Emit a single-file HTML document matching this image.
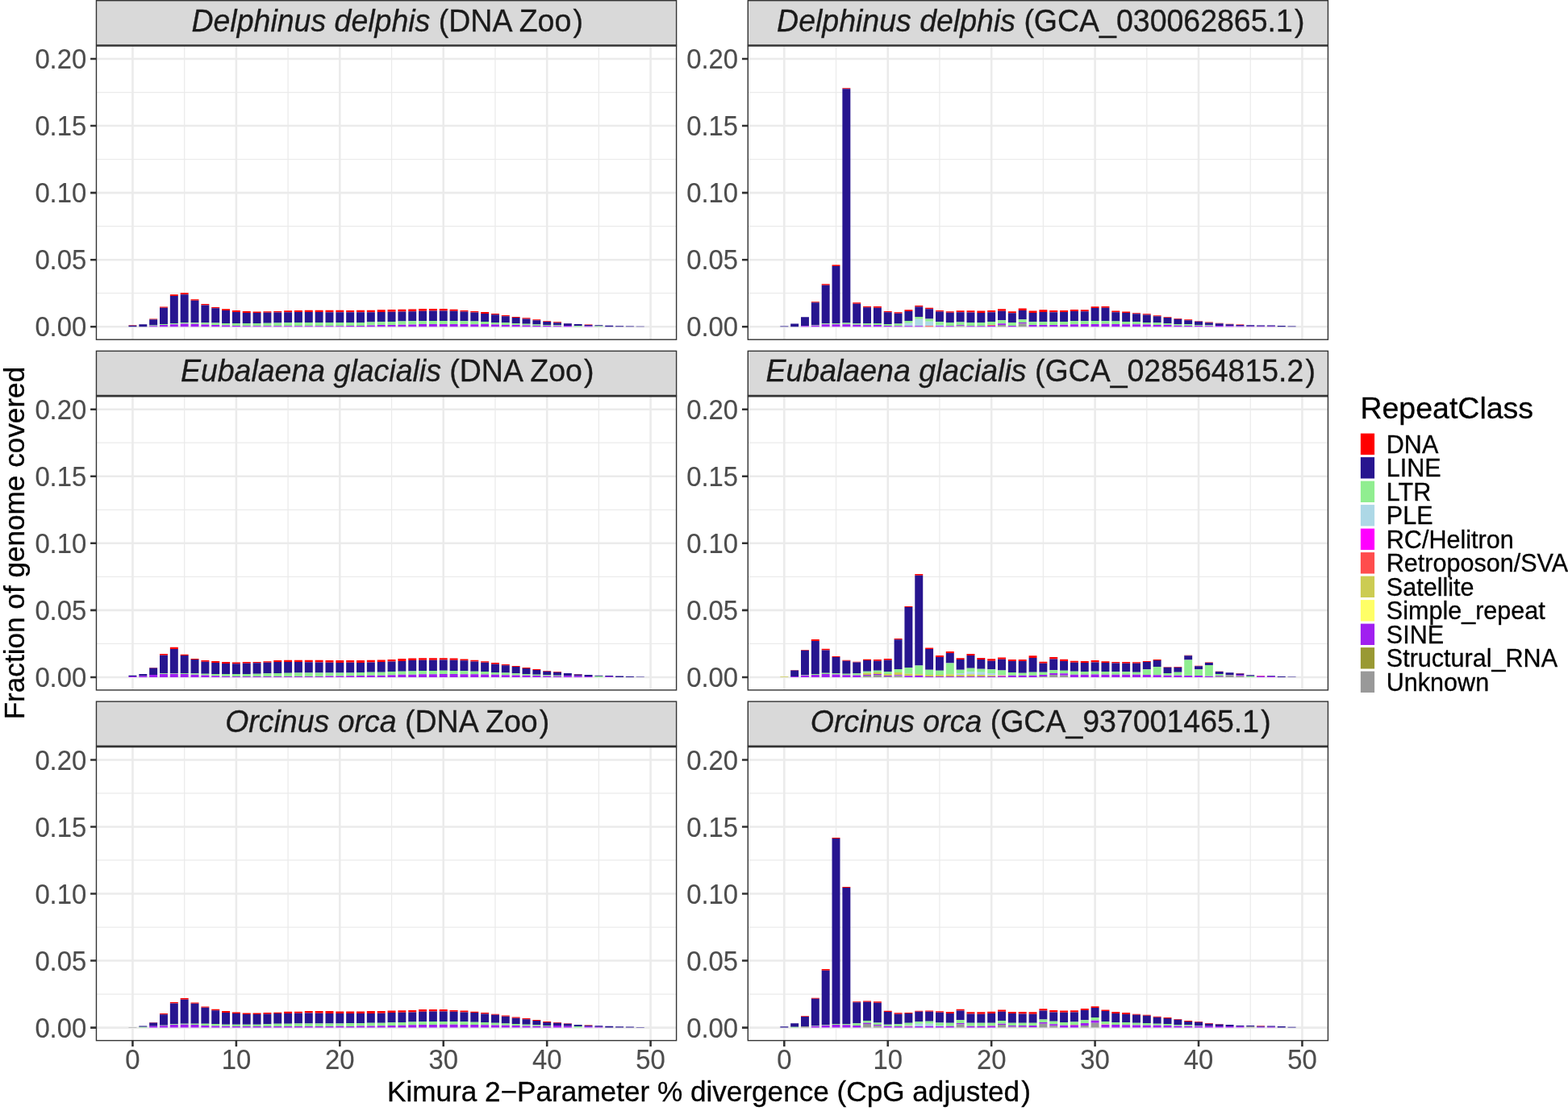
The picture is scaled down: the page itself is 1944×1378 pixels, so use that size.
<!DOCTYPE html>
<html lang="en"><head><meta charset="utf-8"><title>Repeat landscape</title>
<style>html,body{margin:0;padding:0;background:#fff}body{width:1944px;height:1378px;overflow:hidden}svg{display:block}text{font-family:"Liberation Sans",sans-serif}</style>
</head><body>
<svg width="1944" height="1378" viewBox="0 0 1944 1378">
<rect x="0" y="0" width="1944" height="1378" fill="#FFFFFF"/>
<g>
<rect x="119.45" y="57.2" width="719.15" height="364" fill="#FFFFFF"/>
<path d="M119.45 363.67H838.6M119.45 280.62H838.6M119.45 197.57H838.6M119.45 114.52H838.6M228.66 57.2V421.2M357.1 57.2V421.2M485.52 57.2V421.2M613.95 57.2V421.2M742.38 57.2V421.2" stroke="#EBEBEB" stroke-width="1.28" fill="none"/>
<path d="M119.45 405.2H838.6M119.45 322.15H838.6M119.45 239.1H838.6M119.45 156.05H838.6M119.45 73H838.6M164.45 57.2V421.2M292.88 57.2V421.2M421.31 57.2V421.2M549.74 57.2V421.2M678.17 57.2V421.2M806.6 57.2V421.2" stroke="#EBEBEB" stroke-width="2.55" fill="none"/>
<path d="M159.47 403.37h9.95v0.42h-9.95zM185.16 395.62h9.95v0.67h-9.95zM198 380.62h9.95v1.08h-9.95zM210.85 365.2h9.95v1.92h-9.95zM223.69 363.37h9.95v1.83h-9.95zM236.53 371.2h9.95v1.67h-9.95zM249.38 377.12h9.95v1.42h-9.95zM262.22 381.03h9.95v1.25h-9.95zM275.06 383.28h9.95v1.75h-9.95zM287.9 385.03h9.95v2.08h-9.95zM300.75 386.03h9.95v2.08h-9.95zM313.59 386.45h9.95v1.67h-9.95zM326.43 386.2h9.95v1.67h-9.95zM339.28 386.03h9.95v1.42h-9.95zM352.12 385.2h9.95v2.08h-9.95zM364.96 385.03h9.95v2.08h-9.95zM377.81 384.78h9.95v2.33h-9.95zM390.65 384.78h9.95v2.33h-9.95zM403.49 384.78h9.95v2.5h-9.95zM416.33 384.78h9.95v2.5h-9.95zM429.18 385.03h9.95v2.25h-9.95zM442.02 384.78h9.95v2.5h-9.95zM454.86 384.78h9.95v2.5h-9.95zM467.71 384.37h9.95v2.75h-9.95zM480.55 384.12h9.95v2.75h-9.95zM493.39 383.78h9.95v2.67h-9.95zM506.24 383.53h9.95v2.67h-9.95zM519.08 383.12h9.95v2.75h-9.95zM531.92 383.12h9.95v2.33h-9.95zM544.76 383.12h9.95v2.33h-9.95zM557.61 383.78h9.95v2.08h-9.95zM570.45 384.95h9.95v1.67h-9.95zM583.29 386.03h9.95v1.42h-9.95zM596.14 387.12h9.95v1.83h-9.95zM608.98 389.12h9.95v1.25h-9.95zM621.82 391.03h9.95v1.25h-9.95zM634.67 393.12h9.95v1h-9.95zM647.51 394.37h9.95v1.08h-9.95zM660.35 396.28h9.95v1h-9.95zM673.2 398.28h9.95v0.67h-9.95zM686.04 399.37h9.95v0.83h-9.95zM698.88 401.03h9.95v0.33h-9.95zM724.57 402.53h9.95v0.5h-9.95z" fill="#FF0000"/>
<path d="M159.47 403.78h9.95v1.42h-9.95zM172.32 402.28h9.95v2.92h-9.95zM185.16 396.28h9.95v7.25h-9.95zM198 381.7h9.95v20.33h-9.95zM210.85 367.12h9.95v33.92h-9.95zM223.69 365.2h9.95v34.83h-9.95zM236.53 372.87h9.95v27.33h-9.95zM249.38 378.53h9.95v21.67h-9.95zM262.22 382.28h9.95v18.33h-9.95zM275.06 385.03h9.95v16h-9.95zM287.9 387.12h9.95v13.92h-9.95zM300.75 388.12h9.95v12.92h-9.95zM313.59 388.12h9.95v12.92h-9.95zM326.43 387.87h9.95v13h-9.95zM339.28 387.45h9.95v13h-9.95zM352.12 387.28h9.95v12.92h-9.95zM364.96 387.12h9.95v12.92h-9.95zM377.81 387.12h9.95v12.92h-9.95zM390.65 387.12h9.95v12.92h-9.95zM403.49 387.28h9.95v12.75h-9.95zM416.33 387.28h9.95v12.75h-9.95zM429.18 387.28h9.95v12.75h-9.95zM442.02 387.28h9.95v12.75h-9.95zM454.86 387.28h9.95v12.25h-9.95zM467.71 387.12h9.95v12.25h-9.95zM480.55 386.87h9.95v12.25h-9.95zM493.39 386.45h9.95v12.08h-9.95zM506.24 386.2h9.95v12.17h-9.95zM519.08 385.87h9.95v12.42h-9.95zM531.92 385.45h9.95v12.5h-9.95zM544.76 385.45h9.95v12.5h-9.95zM557.61 385.87h9.95v12.25h-9.95zM570.45 386.62h9.95v11.75h-9.95zM583.29 387.45h9.95v11.08h-9.95zM596.14 388.95h9.95v10.17h-9.95zM608.98 390.37h9.95v9.67h-9.95zM621.82 392.28h9.95v7.92h-9.95zM634.67 394.12h9.95v7.08h-9.95zM647.51 395.45h9.95v6.25h-9.95zM660.35 397.28h9.95v5.17h-9.95zM673.2 398.95h9.95v4h-9.95zM686.04 400.2h9.95v3.08h-9.95zM698.88 401.37h9.95v2.67h-9.95zM711.72 402.03h9.95v2.17h-9.95zM724.57 403.03h9.95v1.42h-9.95zM737.41 403.28h9.95v1.33h-9.95zM750.25 403.87h9.95v1.33h-9.95zM763.1 404.2h9.95v1h-9.95zM775.94 404.45h9.95v0.75h-9.95zM788.78 404.7h9.95v0.5h-9.95z" fill="#27158F"/>
<path d="M185.16 403.53h9.95v0.67h-9.95zM198 402.03h9.95v1.08h-9.95zM210.85 401.03h9.95v1.25h-9.95zM223.69 400.03h9.95v1.42h-9.95zM236.53 400.2h9.95v1.67h-9.95zM249.38 400.2h9.95v2.33h-9.95zM262.22 400.62h9.95v2.5h-9.95zM275.06 401.03h9.95v2.5h-9.95zM287.9 401.03h9.95v2.92h-9.95zM300.75 401.03h9.95v3.17h-9.95zM313.59 401.03h9.95v3.17h-9.95zM326.43 400.87h9.95v3.5h-9.95zM339.28 400.45h9.95v3.92h-9.95zM352.12 400.2h9.95v4.17h-9.95zM364.96 400.03h9.95v4.33h-9.95zM377.81 400.03h9.95v4.33h-9.95zM390.65 400.03h9.95v4.33h-9.95zM403.49 400.03h9.95v4.17h-9.95zM416.33 400.03h9.95v4.17h-9.95zM429.18 400.03h9.95v3.92h-9.95zM442.02 400.03h9.95v3.92h-9.95zM454.86 399.53h9.95v4h-9.95zM467.71 399.37h9.95v3.75h-9.95zM480.55 399.12h9.95v3.83h-9.95zM493.39 398.53h9.95v4.17h-9.95zM506.24 398.37h9.95v4.08h-9.95zM519.08 398.28h9.95v3.83h-9.95zM531.92 397.95h9.95v4.08h-9.95zM544.76 397.95h9.95v4.08h-9.95zM557.61 398.12h9.95v3.92h-9.95zM570.45 398.37h9.95v3.67h-9.95zM583.29 398.53h9.95v3.75h-9.95zM596.14 399.12h9.95v2.92h-9.95zM608.98 400.03h9.95v2.5h-9.95zM621.82 400.2h9.95v2.75h-9.95zM634.67 401.2h9.95v1.92h-9.95zM647.51 401.7h9.95v1.83h-9.95zM660.35 402.45h9.95v1.5h-9.95zM673.2 402.95h9.95v1.17h-9.95zM686.04 403.28h9.95v0.92h-9.95zM711.72 404.2h9.95v1h-9.95zM737.41 404.62h9.95v0.58h-9.95z" fill="#90EE90"/>
<path d="M185.16 404.2h9.95v1h-9.95zM198 403.12h9.95v2.08h-9.95zM210.85 402.28h9.95v2.92h-9.95zM223.69 401.45h9.95v3.75h-9.95zM236.53 401.87h9.95v3.33h-9.95zM249.38 402.53h9.95v2.67h-9.95zM262.22 403.12h9.95v2.08h-9.95zM275.06 403.53h9.95v1.67h-9.95zM287.9 403.95h9.95v1.25h-9.95zM300.75 404.2h9.95v1h-9.95zM313.59 404.2h9.95v1h-9.95zM326.43 404.37h9.95v0.83h-9.95zM339.28 404.37h9.95v0.83h-9.95zM352.12 404.37h9.95v0.83h-9.95zM364.96 404.37h9.95v0.83h-9.95zM377.81 404.37h9.95v0.83h-9.95zM390.65 404.37h9.95v0.83h-9.95zM403.49 404.2h9.95v1h-9.95zM416.33 404.2h9.95v1h-9.95zM429.18 403.95h9.95v1.25h-9.95zM442.02 403.95h9.95v1.25h-9.95zM454.86 403.53h9.95v1.67h-9.95zM467.71 403.12h9.95v2.08h-9.95zM480.55 402.95h9.95v2.25h-9.95zM493.39 402.7h9.95v2.5h-9.95zM506.24 402.45h9.95v2.75h-9.95zM519.08 402.12h9.95v3.08h-9.95zM531.92 402.03h9.95v3.17h-9.95zM544.76 402.03h9.95v3.17h-9.95zM557.61 402.03h9.95v3.17h-9.95zM570.45 402.03h9.95v3.17h-9.95zM583.29 402.28h9.95v2.92h-9.95zM596.14 402.03h9.95v3.17h-9.95zM608.98 402.53h9.95v2.67h-9.95zM621.82 402.95h9.95v2.25h-9.95zM634.67 403.12h9.95v2.08h-9.95zM647.51 403.53h9.95v1.67h-9.95zM660.35 403.95h9.95v1.25h-9.95zM673.2 404.12h9.95v1.08h-9.95zM686.04 404.2h9.95v1h-9.95zM698.88 404.03h9.95v1.17h-9.95zM724.57 404.45h9.95v0.75h-9.95z" fill="#A020F0"/>
<rect x="119.45" y="0.7" width="719.15" height="55.8" fill="#D9D9D9"/>
<rect x="119.45" y="0.7" width="719.15" height="420.5" fill="none" stroke="#333333" stroke-width="1.4"/>
<path d="M118.95 56.5H839.1" stroke="#333333" stroke-width="2.7" fill="none"/>
<text transform="translate(480.23 38.7) scale(1 1.01)" font-size="37.5" fill="#1A1A1A" stroke="#1A1A1A" stroke-width="0.3" text-anchor="middle" xml:space="preserve"><tspan font-style="italic">Delphinus delphis</tspan> (DNA Zoo<tspan dx="2.2">)</tspan></text>
<text transform="translate(107.2 417.45) scale(1 1.05)" font-size="32.8" fill="#4D4D4D" stroke="#4D4D4D" stroke-width="0.15" text-anchor="end">0.00</text>
<text transform="translate(107.2 334.4) scale(1 1.05)" font-size="32.8" fill="#4D4D4D" stroke="#4D4D4D" stroke-width="0.15" text-anchor="end">0.05</text>
<text transform="translate(107.2 251.35) scale(1 1.05)" font-size="32.8" fill="#4D4D4D" stroke="#4D4D4D" stroke-width="0.15" text-anchor="end">0.10</text>
<text transform="translate(107.2 168.3) scale(1 1.05)" font-size="32.8" fill="#4D4D4D" stroke="#4D4D4D" stroke-width="0.15" text-anchor="end">0.15</text>
<text transform="translate(107.2 85.25) scale(1 1.05)" font-size="32.8" fill="#4D4D4D" stroke="#4D4D4D" stroke-width="0.15" text-anchor="end">0.20</text>
<path d="M112.1 405.2H119.45M112.1 322.15H119.45M112.1 239.1H119.45M112.1 156.05H119.45M112.1 73H119.45" stroke="#333333" stroke-width="2.55" fill="none"/>
</g>
<g>
<rect x="927.3" y="57.2" width="719.15" height="364" fill="#FFFFFF"/>
<path d="M927.3 363.67H1646.45M927.3 280.62H1646.45M927.3 197.57H1646.45M927.3 114.52H1646.45M1036.51 57.2V421.2M1164.94 57.2V421.2M1293.38 57.2V421.2M1421.8 57.2V421.2M1550.23 57.2V421.2" stroke="#EBEBEB" stroke-width="1.28" fill="none"/>
<path d="M927.3 405.2H1646.45M927.3 322.15H1646.45M927.3 239.1H1646.45M927.3 156.05H1646.45M927.3 73H1646.45M972.3 57.2V421.2M1100.73 57.2V421.2M1229.16 57.2V421.2M1357.59 57.2V421.2M1486.02 57.2V421.2M1614.45 57.2V421.2" stroke="#EBEBEB" stroke-width="2.55" fill="none"/>
<path d="M1005.85 374.28h9.95v0.92h-9.95zM1018.7 352.28h9.95v1.58h-9.95zM1031.54 328.45h9.95v1.67h-9.95zM1044.38 109.2h9.95v1h-9.95zM1057.23 375.37h9.95v1.5h-9.95zM1070.07 380.12h9.95v1.08h-9.95zM1082.91 380.12h9.95v1.75h-9.95zM1095.76 385.95h9.95v1.33h-9.95zM1108.6 387.2h9.95v1.67h-9.95zM1121.44 384.37h9.95v1.67h-9.95zM1134.28 379.12h9.95v1.33h-9.95zM1147.13 381.87h9.95v1.42h-9.95zM1159.97 384.95h9.95v1.5h-9.95zM1172.81 386.2h9.95v1.67h-9.95zM1185.66 385.2h9.95v2.08h-9.95zM1198.5 385.2h9.95v2.25h-9.95zM1211.34 385.45h9.95v2.67h-9.95zM1224.18 385.03h9.95v2.25h-9.95zM1237.03 383.28h9.95v2.58h-9.95zM1249.87 386.28h9.95v2h-9.95zM1262.71 382.45h9.95v2.58h-9.95zM1275.56 385.62h9.95v2.5h-9.95zM1288.4 384.2h9.95v2.92h-9.95zM1301.24 385.03h9.95v2.25h-9.95zM1314.09 385.03h9.95v2.08h-9.95zM1326.93 383.95h9.95v2.08h-9.95zM1339.77 384.37h9.95v1.92h-9.95zM1352.62 380.2h9.95v1.92h-9.95zM1365.46 380.03h9.95v1.67h-9.95zM1378.3 385.62h9.95v1.67h-9.95zM1391.14 386.45h9.95v1.67h-9.95zM1403.99 388.28h9.95v1.08h-9.95zM1416.83 389.37h9.95v1.08h-9.95zM1429.67 391.2h9.95v1.08h-9.95zM1442.52 393.28h9.95v0.83h-9.95zM1455.36 394.95h9.95v0.92h-9.95zM1468.2 396.28h9.95v1h-9.95zM1481.05 398.28h9.95v0.58h-9.95zM1493.89 399.53h9.95v0.67h-9.95zM1506.73 400.78h9.95v0.5h-9.95zM1519.57 401.7h9.95v0.5h-9.95zM1532.42 402.53h9.95v0.42h-9.95z" fill="#FF0000"/>
<path d="M967.32 404.53h9.95v0.67h-9.95zM980.17 401.62h9.95v3.58h-9.95zM993.01 393.28h9.95v11.08h-9.95zM1005.85 375.2h9.95v28.08h-9.95zM1018.7 353.87h9.95v47.5h-9.95zM1031.54 330.12h9.95v70.92h-9.95zM1044.38 110.2h9.95v290.33h-9.95zM1057.23 376.87h9.95v24.33h-9.95zM1070.07 381.2h9.95v20.17h-9.95zM1082.91 381.87h9.95v19.17h-9.95zM1095.76 387.28h9.95v14.75h-9.95zM1108.6 388.87h9.95v12.75h-9.95zM1121.44 386.03h9.95v12.08h-9.95zM1134.28 380.45h9.95v12.67h-9.95zM1147.13 383.28h9.95v12.33h-9.95zM1159.97 386.45h9.95v12.75h-9.95zM1172.81 387.87h9.95v12.17h-9.95zM1185.66 387.28h9.95v12.25h-9.95zM1198.5 387.45h9.95v12.5h-9.95zM1211.34 388.12h9.95v11.83h-9.95zM1224.18 387.28h9.95v11.83h-9.95zM1237.03 385.87h9.95v11.42h-9.95zM1249.87 388.28h9.95v11.67h-9.95zM1262.71 385.03h9.95v11.25h-9.95zM1275.56 388.12h9.95v11.25h-9.95zM1288.4 387.12h9.95v12.08h-9.95zM1301.24 387.28h9.95v11.83h-9.95zM1314.09 387.12h9.95v11.83h-9.95zM1326.93 386.03h9.95v12.25h-9.95zM1339.77 386.28h9.95v12h-9.95zM1352.62 382.12h9.95v16h-9.95zM1365.46 381.7h9.95v16.58h-9.95zM1378.3 387.28h9.95v11.25h-9.95zM1391.14 388.12h9.95v10.83h-9.95zM1403.99 389.37h9.95v9.83h-9.95zM1416.83 390.45h9.95v9.58h-9.95zM1429.67 392.28h9.95v8.08h-9.95zM1442.52 394.12h9.95v7.08h-9.95zM1455.36 395.87h9.95v6.17h-9.95zM1468.2 397.28h9.95v5h-9.95zM1481.05 398.87h9.95v4.08h-9.95zM1493.89 400.2h9.95v3h-9.95zM1506.73 401.28h9.95v2.75h-9.95zM1519.57 402.2h9.95v2.08h-9.95zM1532.42 402.95h9.95v1.5h-9.95zM1545.26 403.28h9.95v1.5h-9.95zM1558.1 403.45h9.95v1.33h-9.95zM1570.95 403.45h9.95v1.33h-9.95zM1583.79 404.03h9.95v1.17h-9.95zM1596.63 404.53h9.95v0.67h-9.95z" fill="#27158F"/>
<path d="M1005.85 403.28h9.95v0.58h-9.95zM1018.7 401.37h9.95v0.92h-9.95zM1031.54 401.03h9.95v1.25h-9.95zM1044.38 400.53h9.95v1.75h-9.95zM1057.23 401.2h9.95v1.67h-9.95zM1070.07 401.37h9.95v1.92h-9.95zM1082.91 401.03h9.95v2.08h-9.95zM1095.76 402.03h9.95v2.08h-9.95zM1108.6 401.62h9.95v2.67h-9.95zM1121.44 398.12h9.95v2.67h-9.95zM1134.28 393.12h9.95v2.75h-9.95zM1147.13 395.62h9.95v3.17h-9.95zM1159.97 399.2h9.95v3.75h-9.95zM1172.81 400.03h9.95v4.17h-9.95zM1185.66 399.53h9.95v3.75h-9.95zM1198.5 399.95h9.95v4.25h-9.95zM1211.34 399.95h9.95v4.25h-9.95zM1224.18 399.12h9.95v4.17h-9.95zM1237.03 397.28h9.95v4h-9.95zM1249.87 399.95h9.95v4h-9.95zM1262.71 396.28h9.95v3.75h-9.95zM1275.56 399.37h9.95v3.75h-9.95zM1288.4 399.2h9.95v3.75h-9.95zM1301.24 399.12h9.95v3.83h-9.95zM1314.09 398.95h9.95v3.75h-9.95zM1326.93 398.28h9.95v4h-9.95zM1339.77 398.28h9.95v3.83h-9.95zM1352.62 398.12h9.95v4h-9.95zM1365.46 398.28h9.95v3.58h-9.95zM1378.3 398.53h9.95v3.58h-9.95zM1391.14 398.95h9.95v3.33h-9.95zM1403.99 399.2h9.95v3.08h-9.95zM1416.83 400.03h9.95v2.5h-9.95zM1429.67 400.37h9.95v2.58h-9.95zM1442.52 401.2h9.95v1.92h-9.95zM1455.36 402.03h9.95v1.75h-9.95zM1468.2 402.28h9.95v1.67h-9.95zM1481.05 402.95h9.95v1.08h-9.95zM1493.89 403.2h9.95v1h-9.95z" fill="#90EE90"/>
<path d="M1121.44 400.78h9.95v3.42h-9.95zM1134.28 395.87h9.95v8.33h-9.95zM1147.13 398.78h9.95v5.5h-9.95zM1159.97 402.95h9.95v1.25h-9.95z" fill="#ADD8E6"/>
<path d="M1147.13 404.28h9.95v0.92h-9.95zM1224.18 403.28h9.95v0.67h-9.95z" fill="#FF4D4D"/>
<path d="M993.01 404.37h9.95v0.83h-9.95zM1005.85 403.87h9.95v1.33h-9.95zM1018.7 402.28h9.95v2.92h-9.95zM1031.54 402.28h9.95v2.92h-9.95zM1044.38 402.28h9.95v2.92h-9.95zM1057.23 402.87h9.95v2.33h-9.95zM1070.07 403.28h9.95v1.92h-9.95zM1082.91 403.12h9.95v2.08h-9.95zM1095.76 404.12h9.95v1.08h-9.95zM1108.6 404.28h9.95v0.92h-9.95zM1121.44 404.2h9.95v1h-9.95zM1134.28 404.2h9.95v1h-9.95zM1159.97 404.2h9.95v1h-9.95zM1172.81 404.2h9.95v1h-9.95zM1185.66 403.28h9.95v0.92h-9.95zM1198.5 404.2h9.95v1h-9.95zM1211.34 404.2h9.95v1h-9.95zM1224.18 403.95h9.95v1.25h-9.95zM1237.03 401.28h9.95v1.83h-9.95zM1249.87 403.95h9.95v1.25h-9.95zM1262.71 400.03h9.95v1.25h-9.95zM1275.56 403.12h9.95v2.08h-9.95zM1288.4 402.95h9.95v2.25h-9.95zM1301.24 402.95h9.95v2.25h-9.95zM1314.09 402.7h9.95v2.5h-9.95zM1326.93 402.28h9.95v2.92h-9.95zM1339.77 402.12h9.95v3.08h-9.95zM1352.62 402.12h9.95v3.08h-9.95zM1365.46 401.87h9.95v3.33h-9.95zM1378.3 402.12h9.95v3.08h-9.95zM1391.14 402.28h9.95v2.92h-9.95zM1403.99 402.28h9.95v2.92h-9.95zM1416.83 402.53h9.95v2.67h-9.95zM1429.67 402.95h9.95v2.25h-9.95zM1442.52 403.12h9.95v2.08h-9.95zM1455.36 403.78h9.95v1.42h-9.95zM1468.2 403.95h9.95v1.25h-9.95zM1481.05 404.03h9.95v1.17h-9.95zM1493.89 404.2h9.95v1h-9.95zM1506.73 404.03h9.95v1.17h-9.95zM1519.57 404.28h9.95v0.92h-9.95zM1532.42 404.45h9.95v0.75h-9.95zM1545.26 404.78h9.95v0.42h-9.95zM1558.1 404.78h9.95v0.42h-9.95zM1570.95 404.78h9.95v0.42h-9.95z" fill="#A020F0"/>
<path d="M1185.66 404.2h9.95v1h-9.95zM1237.03 403.12h9.95v2.08h-9.95zM1262.71 401.28h9.95v3.92h-9.95z" fill="#999999"/>
<rect x="927.3" y="0.7" width="719.15" height="55.8" fill="#D9D9D9"/>
<rect x="927.3" y="0.7" width="719.15" height="420.5" fill="none" stroke="#333333" stroke-width="1.4"/>
<path d="M926.8 56.5H1646.95" stroke="#333333" stroke-width="2.7" fill="none"/>
<text transform="translate(1290.28 38.7) scale(1 1.01)" font-size="37.5" fill="#1A1A1A" stroke="#1A1A1A" stroke-width="0.3" text-anchor="middle" xml:space="preserve"><tspan font-style="italic">Delphinus delphis</tspan> (GCA_030062865.1<tspan dx="2.2">)</tspan></text>
<text transform="translate(915.05 417.45) scale(1 1.05)" font-size="32.8" fill="#4D4D4D" stroke="#4D4D4D" stroke-width="0.15" text-anchor="end">0.00</text>
<text transform="translate(915.05 334.4) scale(1 1.05)" font-size="32.8" fill="#4D4D4D" stroke="#4D4D4D" stroke-width="0.15" text-anchor="end">0.05</text>
<text transform="translate(915.05 251.35) scale(1 1.05)" font-size="32.8" fill="#4D4D4D" stroke="#4D4D4D" stroke-width="0.15" text-anchor="end">0.10</text>
<text transform="translate(915.05 168.3) scale(1 1.05)" font-size="32.8" fill="#4D4D4D" stroke="#4D4D4D" stroke-width="0.15" text-anchor="end">0.15</text>
<text transform="translate(915.05 85.25) scale(1 1.05)" font-size="32.8" fill="#4D4D4D" stroke="#4D4D4D" stroke-width="0.15" text-anchor="end">0.20</text>
<path d="M919.95 405.2H927.3M919.95 322.15H927.3M919.95 239.1H927.3M919.95 156.05H927.3M919.95 73H927.3" stroke="#333333" stroke-width="2.55" fill="none"/>
</g>
<g>
<rect x="119.45" y="491.9" width="719.15" height="364" fill="#FFFFFF"/>
<path d="M119.45 798.38H838.6M119.45 715.32H838.6M119.45 632.27H838.6M119.45 549.22H838.6M228.66 491.9V855.9M357.1 491.9V855.9M485.52 491.9V855.9M613.95 491.9V855.9M742.38 491.9V855.9" stroke="#EBEBEB" stroke-width="1.28" fill="none"/>
<path d="M119.45 839.9H838.6M119.45 756.85H838.6M119.45 673.8H838.6M119.45 590.75H838.6M119.45 507.7H838.6M164.45 491.9V855.9M292.88 491.9V855.9M421.31 491.9V855.9M549.74 491.9V855.9M678.17 491.9V855.9M806.6 491.9V855.9" stroke="#EBEBEB" stroke-width="2.55" fill="none"/>
<path d="M185.16 828.07h9.95v0.42h-9.95zM198 810.9h9.95v1.75h-9.95zM210.85 802.82h9.95v2.08h-9.95zM223.69 811.82h9.95v1.17h-9.95zM236.53 816.98h9.95v1h-9.95zM249.38 819.07h9.95v1.67h-9.95zM262.22 820.07h9.95v1.92h-9.95zM275.06 820.9h9.95v2.17h-9.95zM287.9 821.57h9.95v1.67h-9.95zM300.75 820.98h9.95v1.83h-9.95zM313.59 820.9h9.95v1.25h-9.95zM326.43 820.32h9.95v1.5h-9.95zM339.28 819.07h9.95v1.83h-9.95zM352.12 818.82h9.95v2.17h-9.95zM364.96 818.82h9.95v2.17h-9.95zM377.81 818.82h9.95v2.33h-9.95zM390.65 818.82h9.95v2.75h-9.95zM403.49 818.9h9.95v2.92h-9.95zM416.33 819.07h9.95v2.92h-9.95zM429.18 818.9h9.95v2.92h-9.95zM442.02 819.07h9.95v2.92h-9.95zM454.86 818.82h9.95v2.75h-9.95zM467.71 818.57h9.95v2.5h-9.95zM480.55 817.98h9.95v2.58h-9.95zM493.39 816.98h9.95v2.92h-9.95zM506.24 816.57h9.95v2.5h-9.95zM519.08 816.15h9.95v2.67h-9.95zM531.92 816.15h9.95v2.67h-9.95zM544.76 816.15h9.95v2.33h-9.95zM557.61 816.57h9.95v2.25h-9.95zM570.45 817.57h9.95v1.75h-9.95zM583.29 818.82h9.95v1.67h-9.95zM596.14 820.15h9.95v1.67h-9.95zM608.98 821.98h9.95v1.67h-9.95zM621.82 823.9h9.95v1.42h-9.95zM634.67 825.9h9.95v1.08h-9.95zM647.51 827.98h9.95v0.92h-9.95zM660.35 830.07h9.95v0.83h-9.95zM673.2 831.98h9.95v0.83h-9.95zM686.04 833.07h9.95v0.75h-9.95zM711.72 835.98h9.95v0.5h-9.95z" fill="#FF0000"/>
<path d="M159.47 837.65h9.95v1.42h-9.95zM172.32 835.98h9.95v2.5h-9.95zM185.16 828.48h9.95v8.5h-9.95zM198 812.65h9.95v22.67h-9.95zM210.85 804.9h9.95v30h-9.95zM223.69 812.98h9.95v21.92h-9.95zM236.53 817.98h9.95v17.33h-9.95zM249.38 820.73h9.95v15h-9.95zM262.22 821.98h9.95v13.92h-9.95zM275.06 823.07h9.95v12.83h-9.95zM287.9 823.23h9.95v12.67h-9.95zM300.75 822.82h9.95v13.08h-9.95zM313.59 822.15h9.95v13.58h-9.95zM326.43 821.82h9.95v13.5h-9.95zM339.28 820.9h9.95v14h-9.95zM352.12 820.98h9.95v13.75h-9.95zM364.96 820.98h9.95v13.5h-9.95zM377.81 821.15h9.95v13.33h-9.95zM390.65 821.57h9.95v12.92h-9.95zM403.49 821.82h9.95v12.67h-9.95zM416.33 821.98h9.95v12.5h-9.95zM429.18 821.82h9.95v12.67h-9.95zM442.02 821.98h9.95v12.08h-9.95zM454.86 821.57h9.95v12.25h-9.95zM467.71 821.07h9.95v12.75h-9.95zM480.55 820.57h9.95v12.42h-9.95zM493.39 819.9h9.95v12.92h-9.95zM506.24 819.07h9.95v13.33h-9.95zM519.08 818.82h9.95v13.17h-9.95zM531.92 818.82h9.95v13.17h-9.95zM544.76 818.48h9.95v13.33h-9.95zM557.61 818.82h9.95v13.17h-9.95zM570.45 819.32h9.95v12.83h-9.95zM583.29 820.48h9.95v12.33h-9.95zM596.14 821.82h9.95v11.25h-9.95zM608.98 823.65h9.95v10.25h-9.95zM621.82 825.32h9.95v9.17h-9.95zM634.67 826.98h9.95v8.17h-9.95zM647.51 828.9h9.95v7.08h-9.95zM660.35 830.9h9.95v5.83h-9.95zM673.2 832.82h9.95v4.33h-9.95zM686.04 833.82h9.95v3.83h-9.95zM698.88 834.9h9.95v3.33h-9.95zM711.72 836.48h9.95v2h-9.95zM724.57 836.98h9.95v2.08h-9.95zM737.41 837.65h9.95v1.17h-9.95zM750.25 837.98h9.95v1.33h-9.95zM763.1 838.4h9.95v1.5h-9.95zM775.94 838.98h9.95v0.92h-9.95zM788.78 839.4h9.95v0.5h-9.95z" fill="#27158F"/>
<path d="M198 835.32h9.95v0.58h-9.95zM210.85 834.9h9.95v0.83h-9.95zM223.69 834.9h9.95v1h-9.95zM236.53 835.32h9.95v1.42h-9.95zM249.38 835.73h9.95v1.83h-9.95zM262.22 835.9h9.95v2.33h-9.95zM275.06 835.9h9.95v2.75h-9.95zM287.9 835.9h9.95v3h-9.95zM300.75 835.9h9.95v3h-9.95zM313.59 835.73h9.95v3.17h-9.95zM326.43 835.32h9.95v3.58h-9.95zM339.28 834.9h9.95v4h-9.95zM352.12 834.73h9.95v4.17h-9.95zM364.96 834.48h9.95v4.42h-9.95zM377.81 834.48h9.95v4.42h-9.95zM390.65 834.48h9.95v4.42h-9.95zM403.49 834.48h9.95v4h-9.95zM416.33 834.48h9.95v4h-9.95zM429.18 834.48h9.95v3.75h-9.95zM442.02 834.07h9.95v3.92h-9.95zM454.86 833.82h9.95v4h-9.95zM467.71 833.82h9.95v3.83h-9.95zM480.55 832.98h9.95v4.17h-9.95zM493.39 832.82h9.95v4h-9.95zM506.24 832.4h9.95v4.42h-9.95zM519.08 831.98h9.95v4.33h-9.95zM531.92 831.98h9.95v4.17h-9.95zM544.76 831.82h9.95v4.17h-9.95zM557.61 831.98h9.95v4h-9.95zM570.45 832.15h9.95v4h-9.95zM583.29 832.82h9.95v3.33h-9.95zM596.14 833.07h9.95v3.33h-9.95zM608.98 833.9h9.95v2.92h-9.95zM621.82 834.48h9.95v2.67h-9.95zM634.67 835.15h9.95v2.25h-9.95zM647.51 835.98h9.95v1.83h-9.95zM660.35 836.73h9.95v1.33h-9.95zM673.2 837.15h9.95v1.33h-9.95zM686.04 837.65h9.95v1.17h-9.95zM737.41 838.82h9.95v1.08h-9.95z" fill="#90EE90"/>
<path d="M159.47 839.07h9.95v0.83h-9.95zM172.32 838.48h9.95v1.42h-9.95zM185.16 836.98h9.95v2.92h-9.95zM198 835.9h9.95v4h-9.95zM210.85 835.73h9.95v4.17h-9.95zM223.69 835.9h9.95v4h-9.95zM236.53 836.73h9.95v3.17h-9.95zM249.38 837.57h9.95v2.33h-9.95zM262.22 838.23h9.95v1.67h-9.95zM275.06 838.65h9.95v1.25h-9.95zM287.9 838.9h9.95v1h-9.95zM300.75 838.9h9.95v1h-9.95zM313.59 838.9h9.95v1h-9.95zM326.43 838.9h9.95v1h-9.95zM339.28 838.9h9.95v1h-9.95zM352.12 838.9h9.95v1h-9.95zM364.96 838.9h9.95v1h-9.95zM377.81 838.9h9.95v1h-9.95zM390.65 838.9h9.95v1h-9.95zM403.49 838.48h9.95v1.42h-9.95zM416.33 838.48h9.95v1.42h-9.95zM429.18 838.23h9.95v1.67h-9.95zM442.02 837.98h9.95v1.92h-9.95zM454.86 837.82h9.95v2.08h-9.95zM467.71 837.65h9.95v2.25h-9.95zM480.55 837.15h9.95v2.75h-9.95zM493.39 836.82h9.95v3.08h-9.95zM506.24 836.82h9.95v3.08h-9.95zM519.08 836.32h9.95v3.58h-9.95zM531.92 836.15h9.95v3.75h-9.95zM544.76 835.98h9.95v3.92h-9.95zM557.61 835.98h9.95v3.92h-9.95zM570.45 836.15h9.95v3.75h-9.95zM583.29 836.15h9.95v3.75h-9.95zM596.14 836.4h9.95v3.5h-9.95zM608.98 836.82h9.95v3.08h-9.95zM621.82 837.15h9.95v2.75h-9.95zM634.67 837.4h9.95v2.5h-9.95zM647.51 837.82h9.95v2.08h-9.95zM660.35 838.07h9.95v1.83h-9.95zM673.2 838.48h9.95v1.42h-9.95zM686.04 838.82h9.95v1.08h-9.95zM698.88 838.23h9.95v1.67h-9.95zM711.72 838.48h9.95v1.42h-9.95zM724.57 839.07h9.95v0.83h-9.95zM750.25 839.32h9.95v0.58h-9.95z" fill="#A020F0"/>
<rect x="119.45" y="435.4" width="719.15" height="55.8" fill="#D9D9D9"/>
<rect x="119.45" y="435.4" width="719.15" height="420.5" fill="none" stroke="#333333" stroke-width="1.4"/>
<path d="M118.95 491.2H839.1" stroke="#333333" stroke-width="2.7" fill="none"/>
<text transform="translate(480.23 473.4) scale(1 1.01)" font-size="37.5" fill="#1A1A1A" stroke="#1A1A1A" stroke-width="0.3" text-anchor="middle" xml:space="preserve"><tspan font-style="italic">Eubalaena glacialis</tspan> (DNA Zoo<tspan dx="2.2">)</tspan></text>
<text transform="translate(107.2 852.15) scale(1 1.05)" font-size="32.8" fill="#4D4D4D" stroke="#4D4D4D" stroke-width="0.15" text-anchor="end">0.00</text>
<text transform="translate(107.2 769.1) scale(1 1.05)" font-size="32.8" fill="#4D4D4D" stroke="#4D4D4D" stroke-width="0.15" text-anchor="end">0.05</text>
<text transform="translate(107.2 686.05) scale(1 1.05)" font-size="32.8" fill="#4D4D4D" stroke="#4D4D4D" stroke-width="0.15" text-anchor="end">0.10</text>
<text transform="translate(107.2 603) scale(1 1.05)" font-size="32.8" fill="#4D4D4D" stroke="#4D4D4D" stroke-width="0.15" text-anchor="end">0.15</text>
<text transform="translate(107.2 519.95) scale(1 1.05)" font-size="32.8" fill="#4D4D4D" stroke="#4D4D4D" stroke-width="0.15" text-anchor="end">0.20</text>
<path d="M112.1 839.9H119.45M112.1 756.85H119.45M112.1 673.8H119.45M112.1 590.75H119.45M112.1 507.7H119.45" stroke="#333333" stroke-width="2.55" fill="none"/>
</g>
<g>
<rect x="927.3" y="491.9" width="719.15" height="364" fill="#FFFFFF"/>
<path d="M927.3 798.38H1646.45M927.3 715.32H1646.45M927.3 632.27H1646.45M927.3 549.22H1646.45M1036.51 491.9V855.9M1164.94 491.9V855.9M1293.38 491.9V855.9M1421.8 491.9V855.9M1550.23 491.9V855.9" stroke="#EBEBEB" stroke-width="1.28" fill="none"/>
<path d="M927.3 839.9H1646.45M927.3 756.85H1646.45M927.3 673.8H1646.45M927.3 590.75H1646.45M927.3 507.7H1646.45M972.3 491.9V855.9M1100.73 491.9V855.9M1229.16 491.9V855.9M1357.59 491.9V855.9M1486.02 491.9V855.9M1614.45 491.9V855.9" stroke="#EBEBEB" stroke-width="2.55" fill="none"/>
<path d="M980.17 830.9h9.95v0.58h-9.95zM993.01 805.9h9.95v0.83h-9.95zM1005.85 792.98h9.95v1.92h-9.95zM1018.7 804.82h9.95v1.75h-9.95zM1031.54 814.07h9.95v1h-9.95zM1044.38 818.82h9.95v0.83h-9.95zM1057.23 820.65h9.95v0.92h-9.95zM1070.07 817.82h9.95v1.25h-9.95zM1082.91 817.98h9.95v1.67h-9.95zM1095.76 816.9h9.95v1.92h-9.95zM1108.6 791.98h9.95v1.17h-9.95zM1121.44 751.98h9.95v1h-9.95zM1134.28 711.98h9.95v1.67h-9.95zM1147.13 803.4h9.95v1.5h-9.95zM1159.97 812.98h9.95v1.92h-9.95zM1172.81 807.98h9.95v1.92h-9.95zM1185.66 816.15h9.95v1.92h-9.95zM1198.5 810.98h9.95v2.08h-9.95zM1211.34 815.9h9.95v2.08h-9.95zM1224.18 817.15h9.95v2.58h-9.95zM1237.03 815.57h9.95v2.25h-9.95zM1249.87 817.98h9.95v1.92h-9.95zM1262.71 817.98h9.95v1.92h-9.95zM1275.56 813.23h9.95v2.67h-9.95zM1288.4 820.73h9.95v2.08h-9.95zM1301.24 815.07h9.95v2.5h-9.95zM1314.09 817.82h9.95v2.08h-9.95zM1326.93 819.65h9.95v2.17h-9.95zM1339.77 819.9h9.95v2.08h-9.95zM1352.62 819.07h9.95v2.5h-9.95zM1365.46 820.15h9.95v1.83h-9.95zM1378.3 820.9h9.95v1.67h-9.95zM1391.14 820.9h9.95v1.75h-9.95zM1403.99 821.15h9.95v1.67h-9.95zM1416.83 819.9h9.95v1.08h-9.95zM1429.67 817.98h9.95v0.92h-9.95zM1442.52 827.15h9.95v0.67h-9.95zM1455.36 826.98h9.95v0.83h-9.95zM1468.2 812.82h9.95v0.5h-9.95zM1481.05 825.82h9.95v0.42h-9.95zM1493.89 821.57h9.95v0.5h-9.95zM1506.73 832.65h9.95v0.42h-9.95zM1532.42 835.07h9.95v0.5h-9.95zM1558.1 837.98h9.95v0.5h-9.95z" fill="#FF0000"/>
<path d="M980.17 831.48h9.95v7.5h-9.95zM993.01 806.73h9.95v30.42h-9.95zM1005.85 794.9h9.95v41h-9.95zM1018.7 806.57h9.95v28.25h-9.95zM1031.54 815.07h9.95v20h-9.95zM1044.38 819.65h9.95v16.08h-9.95zM1057.23 821.57h9.95v13.67h-9.95zM1070.07 819.07h9.95v13.67h-9.95zM1082.91 819.65h9.95v12.08h-9.95zM1095.76 818.82h9.95v14.17h-9.95zM1108.6 793.15h9.95v36.92h-9.95zM1121.44 752.98h9.95v75h-9.95zM1134.28 713.65h9.95v111.83h-9.95zM1147.13 804.9h9.95v25.83h-9.95zM1159.97 814.9h9.95v16.92h-9.95zM1172.81 809.9h9.95v12.67h-9.95zM1185.66 818.07h9.95v12.67h-9.95zM1198.5 813.07h9.95v15.75h-9.95zM1211.34 817.98h9.95v11.67h-9.95zM1224.18 819.73h9.95v10.42h-9.95zM1237.03 817.82h9.95v13.75h-9.95zM1249.87 819.9h9.95v14.17h-9.95zM1262.71 819.9h9.95v14.75h-9.95zM1275.56 815.9h9.95v17.92h-9.95zM1288.4 822.82h9.95v10.83h-9.95zM1301.24 817.57h9.95v13.58h-9.95zM1314.09 819.9h9.95v11.92h-9.95zM1326.93 821.82h9.95v11h-9.95zM1339.77 821.98h9.95v11h-9.95zM1352.62 821.57h9.95v11.25h-9.95zM1365.46 821.98h9.95v11h-9.95zM1378.3 822.57h9.95v10.67h-9.95zM1391.14 822.65h9.95v10.58h-9.95zM1403.99 822.82h9.95v10.83h-9.95zM1416.83 820.98h9.95v9.17h-9.95zM1429.67 818.9h9.95v8.08h-9.95zM1442.52 827.82h9.95v7.08h-9.95zM1455.36 827.82h9.95v6h-9.95zM1468.2 813.32h9.95v5.17h-9.95zM1481.05 826.23h9.95v4.08h-9.95zM1493.89 822.07h9.95v3h-9.95zM1506.73 833.07h9.95v2.83h-9.95zM1519.57 834.23h9.95v2.92h-9.95zM1532.42 835.57h9.95v1.42h-9.95zM1545.26 837.15h9.95v1.67h-9.95zM1570.95 838.32h9.95v0.75h-9.95zM1583.79 838.98h9.95v0.92h-9.95zM1596.63 839.4h9.95v0.5h-9.95z" fill="#27158F"/>
<path d="M993.01 837.15h9.95v0.67h-9.95zM1005.85 835.9h9.95v1h-9.95zM1018.7 834.82h9.95v1.08h-9.95zM1031.54 835.07h9.95v1.5h-9.95zM1044.38 835.73h9.95v1.42h-9.95zM1057.23 835.23h9.95v2.33h-9.95zM1070.07 832.73h9.95v1.92h-9.95zM1082.91 831.73h9.95v2.33h-9.95zM1095.76 832.98h9.95v2.92h-9.95zM1108.6 830.07h9.95v4h-9.95zM1121.44 827.98h9.95v7.75h-9.95zM1134.28 825.48h9.95v10.67h-9.95zM1147.13 830.73h9.95v6.25h-9.95zM1159.97 831.82h9.95v5.17h-9.95zM1172.81 822.57h9.95v14h-9.95zM1185.66 830.73h9.95v4.17h-9.95zM1198.5 828.82h9.95v4.42h-9.95zM1211.34 829.65h9.95v4.17h-9.95zM1224.18 830.15h9.95v4.75h-9.95zM1237.03 831.57h9.95v5.58h-9.95zM1249.87 834.07h9.95v3.75h-9.95zM1262.71 834.65h9.95v3.17h-9.95zM1275.56 833.82h9.95v3.83h-9.95zM1288.4 833.65h9.95v3.33h-9.95zM1301.24 831.15h9.95v3.75h-9.95zM1314.09 831.82h9.95v3.5h-9.95zM1326.93 832.82h9.95v4h-9.95zM1339.77 832.98h9.95v3.83h-9.95zM1352.62 832.82h9.95v3.58h-9.95zM1365.46 832.98h9.95v3.83h-9.95zM1378.3 833.23h9.95v3.58h-9.95zM1391.14 833.23h9.95v3.5h-9.95zM1403.99 833.65h9.95v3.17h-9.95zM1416.83 830.15h9.95v6.83h-9.95zM1429.67 826.98h9.95v10.25h-9.95zM1442.52 834.9h9.95v2.92h-9.95zM1455.36 833.82h9.95v4h-9.95zM1468.2 818.48h9.95v19.58h-9.95zM1481.05 830.32h9.95v7.75h-9.95zM1493.89 825.07h9.95v13.58h-9.95zM1506.73 835.9h9.95v2.33h-9.95zM1545.26 838.82h9.95v1.08h-9.95z" fill="#90EE90"/>
<path d="M1185.66 834.9h9.95v2.08h-9.95zM1198.5 833.23h9.95v3.33h-9.95zM1211.34 833.82h9.95v3.17h-9.95zM1224.18 834.9h9.95v2.5h-9.95zM1237.03 837.15h9.95v0.67h-9.95z" fill="#ADD8E6"/>
<path d="M1237.03 837.82h9.95v0.83h-9.95z" fill="#FF4D4D"/>
<path d="M967.32 839.23h9.95v0.67h-9.95zM1070.07 834.65h9.95v2.33h-9.95zM1082.91 834.07h9.95v1.83h-9.95zM1095.76 835.9h9.95v2.08h-9.95zM1108.6 834.07h9.95v3.08h-9.95zM1121.44 835.73h9.95v2.5h-9.95zM1134.28 836.15h9.95v1.92h-9.95zM1147.13 836.98h9.95v1.92h-9.95zM1159.97 836.98h9.95v1.92h-9.95zM1172.81 836.57h9.95v2.33h-9.95zM1185.66 836.98h9.95v1.92h-9.95zM1198.5 836.57h9.95v2.33h-9.95zM1211.34 836.98h9.95v1.92h-9.95zM1224.18 837.4h9.95v1.5h-9.95z" fill="#CCCC52"/>
<path d="M980.17 838.98h9.95v0.92h-9.95zM993.01 837.82h9.95v2.08h-9.95zM1005.85 836.9h9.95v3h-9.95zM1018.7 835.9h9.95v4h-9.95zM1031.54 836.57h9.95v3.33h-9.95zM1044.38 837.15h9.95v2.75h-9.95zM1057.23 837.57h9.95v2.33h-9.95zM1070.07 836.98h9.95v1h-9.95zM1082.91 835.9h9.95v1.08h-9.95zM1095.76 837.98h9.95v0.92h-9.95zM1108.6 837.15h9.95v1.08h-9.95zM1121.44 838.23h9.95v1.67h-9.95zM1134.28 838.07h9.95v1.83h-9.95zM1147.13 838.9h9.95v1h-9.95zM1159.97 838.9h9.95v1h-9.95zM1172.81 838.9h9.95v1h-9.95zM1185.66 838.9h9.95v1h-9.95zM1198.5 838.9h9.95v1h-9.95zM1211.34 838.9h9.95v1h-9.95zM1224.18 838.9h9.95v1h-9.95zM1237.03 838.65h9.95v1.25h-9.95zM1249.87 837.82h9.95v2.08h-9.95zM1262.71 837.82h9.95v2.08h-9.95zM1275.56 837.65h9.95v2.25h-9.95zM1288.4 836.98h9.95v1.92h-9.95zM1301.24 834.9h9.95v2.08h-9.95zM1314.09 835.32h9.95v2.5h-9.95zM1326.93 836.82h9.95v3.08h-9.95zM1339.77 836.82h9.95v3.08h-9.95zM1352.62 836.4h9.95v3.5h-9.95zM1365.46 836.82h9.95v3.08h-9.95zM1378.3 836.82h9.95v3.08h-9.95zM1391.14 836.73h9.95v3.17h-9.95zM1403.99 836.82h9.95v3.08h-9.95zM1416.83 836.98h9.95v2.92h-9.95zM1429.67 837.23h9.95v2.67h-9.95zM1442.52 837.82h9.95v2.08h-9.95zM1455.36 837.82h9.95v2.08h-9.95zM1468.2 838.07h9.95v1.83h-9.95zM1481.05 838.07h9.95v1.83h-9.95zM1493.89 838.65h9.95v1.25h-9.95zM1506.73 838.23h9.95v0.83h-9.95zM1532.42 836.98h9.95v1.25h-9.95zM1558.1 838.48h9.95v1.42h-9.95zM1570.95 839.07h9.95v0.83h-9.95z" fill="#A020F0"/>
<path d="M1070.07 837.98h9.95v1.92h-9.95zM1082.91 836.98h9.95v2.92h-9.95zM1095.76 838.9h9.95v1h-9.95zM1108.6 838.23h9.95v1.67h-9.95zM1288.4 838.9h9.95v1h-9.95zM1301.24 836.98h9.95v2.92h-9.95zM1314.09 837.82h9.95v2.08h-9.95zM1506.73 839.07h9.95v0.83h-9.95zM1519.57 837.15h9.95v2.75h-9.95zM1532.42 838.23h9.95v1.67h-9.95z" fill="#999999"/>
<rect x="927.3" y="435.4" width="719.15" height="55.8" fill="#D9D9D9"/>
<rect x="927.3" y="435.4" width="719.15" height="420.5" fill="none" stroke="#333333" stroke-width="1.4"/>
<path d="M926.8 491.2H1646.95" stroke="#333333" stroke-width="2.7" fill="none"/>
<text transform="translate(1290.28 473.4) scale(1 1.01)" font-size="37.5" fill="#1A1A1A" stroke="#1A1A1A" stroke-width="0.3" text-anchor="middle" xml:space="preserve"><tspan font-style="italic">Eubalaena glacialis</tspan> (GCA_028564815.2<tspan dx="2.2">)</tspan></text>
<text transform="translate(915.05 852.15) scale(1 1.05)" font-size="32.8" fill="#4D4D4D" stroke="#4D4D4D" stroke-width="0.15" text-anchor="end">0.00</text>
<text transform="translate(915.05 769.1) scale(1 1.05)" font-size="32.8" fill="#4D4D4D" stroke="#4D4D4D" stroke-width="0.15" text-anchor="end">0.05</text>
<text transform="translate(915.05 686.05) scale(1 1.05)" font-size="32.8" fill="#4D4D4D" stroke="#4D4D4D" stroke-width="0.15" text-anchor="end">0.10</text>
<text transform="translate(915.05 603) scale(1 1.05)" font-size="32.8" fill="#4D4D4D" stroke="#4D4D4D" stroke-width="0.15" text-anchor="end">0.15</text>
<text transform="translate(915.05 519.95) scale(1 1.05)" font-size="32.8" fill="#4D4D4D" stroke="#4D4D4D" stroke-width="0.15" text-anchor="end">0.20</text>
<path d="M919.95 839.9H927.3M919.95 756.85H927.3M919.95 673.8H927.3M919.95 590.75H927.3M919.95 507.7H927.3" stroke="#333333" stroke-width="2.55" fill="none"/>
</g>
<g>
<rect x="119.45" y="926.6" width="719.15" height="364" fill="#FFFFFF"/>
<path d="M119.45 1233.07H838.6M119.45 1150.02H838.6M119.45 1066.97H838.6M119.45 983.92H838.6M228.66 926.6V1290.6M357.1 926.6V1290.6M485.52 926.6V1290.6M613.95 926.6V1290.6M742.38 926.6V1290.6" stroke="#EBEBEB" stroke-width="1.28" fill="none"/>
<path d="M119.45 1274.6H838.6M119.45 1191.55H838.6M119.45 1108.5H838.6M119.45 1025.45H838.6M119.45 942.4H838.6M164.45 926.6V1290.6M292.88 926.6V1290.6M421.31 926.6V1290.6M549.74 926.6V1290.6M678.17 926.6V1290.6M806.6 926.6V1290.6" stroke="#EBEBEB" stroke-width="2.55" fill="none"/>
<path d="M185.16 1268.02h9.95v0.42h-9.95zM198 1257.1h9.95v1.08h-9.95zM210.85 1242.93h9.95v1.67h-9.95zM223.69 1238.02h9.95v1.67h-9.95zM236.53 1243.6h9.95v1.25h-9.95zM249.38 1248.6h9.95v1.25h-9.95zM262.22 1251.77h9.95v1.42h-9.95zM275.06 1254.02h9.95v1.92h-9.95zM287.9 1255.52h9.95v1.58h-9.95zM300.75 1256.52h9.95v1.42h-9.95zM313.59 1256.52h9.95v1.42h-9.95zM326.43 1256.1h9.95v1.67h-9.95zM339.28 1255.68h9.95v1.42h-9.95zM352.12 1254.85h9.95v2.08h-9.95zM364.96 1254.85h9.95v1.92h-9.95zM377.81 1254.02h9.95v2.5h-9.95zM390.65 1254.02h9.95v2.75h-9.95zM403.49 1254.02h9.95v2.92h-9.95zM416.33 1254.6h9.95v2.33h-9.95zM429.18 1254.6h9.95v2.33h-9.95zM442.02 1254.6h9.95v2.33h-9.95zM454.86 1254.02h9.95v2.92h-9.95zM467.71 1254.02h9.95v2.75h-9.95zM480.55 1253.6h9.95v2.5h-9.95zM493.39 1253.18h9.95v2.67h-9.95zM506.24 1252.93h9.95v2.58h-9.95zM519.08 1252.1h9.95v2.75h-9.95zM531.92 1251.93h9.95v2.67h-9.95zM544.76 1252.1h9.95v2.33h-9.95zM557.61 1252.93h9.95v1.92h-9.95zM570.45 1253.6h9.95v1.92h-9.95zM583.29 1254.68h9.95v1.42h-9.95zM596.14 1255.93h9.95v1.67h-9.95zM608.98 1257.77h9.95v1.08h-9.95zM621.82 1259.6h9.95v1.25h-9.95zM634.67 1261.52h9.95v1.25h-9.95zM647.51 1263.02h9.95v1.17h-9.95zM660.35 1265.02h9.95v0.92h-9.95zM673.2 1266.93h9.95v1h-9.95zM686.04 1268.02h9.95v0.75h-9.95zM698.88 1269.27h9.95v0.58h-9.95zM724.57 1271.52h9.95v0.42h-9.95z" fill="#FF0000"/>
<path d="M172.32 1272.52h9.95v1.33h-9.95zM185.16 1268.43h9.95v4.33h-9.95zM198 1258.18h9.95v13.5h-9.95zM210.85 1244.6h9.95v25.67h-9.95zM223.69 1239.68h9.95v30h-9.95zM236.53 1244.85h9.95v24.83h-9.95zM249.38 1249.85h9.95v20h-9.95zM262.22 1253.18h9.95v16.92h-9.95zM275.06 1255.93h9.95v14.75h-9.95zM287.9 1257.1h9.95v13.58h-9.95zM300.75 1257.93h9.95v12.75h-9.95zM313.59 1257.93h9.95v12.75h-9.95zM326.43 1257.77h9.95v12.5h-9.95zM339.28 1257.1h9.95v12.75h-9.95zM352.12 1256.93h9.95v12.75h-9.95zM364.96 1256.77h9.95v12.67h-9.95zM377.81 1256.52h9.95v12.92h-9.95zM390.65 1256.77h9.95v12.67h-9.95zM403.49 1256.93h9.95v12.5h-9.95zM416.33 1256.93h9.95v12.5h-9.95zM429.18 1256.93h9.95v12.08h-9.95zM442.02 1256.93h9.95v12.08h-9.95zM454.86 1256.93h9.95v11.92h-9.95zM467.71 1256.77h9.95v12h-9.95zM480.55 1256.1h9.95v12.08h-9.95zM493.39 1255.85h9.95v12.08h-9.95zM506.24 1255.52h9.95v12.08h-9.95zM519.08 1254.85h9.95v12.5h-9.95zM531.92 1254.6h9.95v12.33h-9.95zM544.76 1254.43h9.95v12.5h-9.95zM557.61 1254.85h9.95v12.08h-9.95zM570.45 1255.52h9.95v11.83h-9.95zM583.29 1256.1h9.95v11.67h-9.95zM596.14 1257.6h9.95v10.33h-9.95zM608.98 1258.85h9.95v9.92h-9.95zM621.82 1260.85h9.95v8.58h-9.95zM634.67 1262.77h9.95v7.25h-9.95zM647.51 1264.18h9.95v6.67h-9.95zM660.35 1265.93h9.95v5.33h-9.95zM673.2 1267.93h9.95v4h-9.95zM686.04 1268.77h9.95v3.33h-9.95zM698.88 1269.85h9.95v2.92h-9.95zM711.72 1270.93h9.95v2h-9.95zM724.57 1271.93h9.95v1.42h-9.95zM737.41 1272.18h9.95v1.5h-9.95zM750.25 1272.77h9.95v1.83h-9.95zM763.1 1273.18h9.95v1.42h-9.95zM775.94 1273.43h9.95v1.17h-9.95zM788.78 1274.02h9.95v0.58h-9.95z" fill="#27158F"/>
<path d="M172.32 1273.85h9.95v0.75h-9.95zM198 1271.68h9.95v0.67h-9.95zM210.85 1270.27h9.95v0.83h-9.95zM223.69 1269.68h9.95v1h-9.95zM236.53 1269.68h9.95v1.42h-9.95zM249.38 1269.85h9.95v2.08h-9.95zM262.22 1270.1h9.95v2.42h-9.95zM275.06 1270.68h9.95v2.08h-9.95zM287.9 1270.68h9.95v2.25h-9.95zM300.75 1270.68h9.95v2.25h-9.95zM313.59 1270.68h9.95v2.25h-9.95zM326.43 1270.27h9.95v2.67h-9.95zM339.28 1269.85h9.95v3.08h-9.95zM352.12 1269.68h9.95v3.25h-9.95zM364.96 1269.43h9.95v3.5h-9.95zM377.81 1269.43h9.95v3.5h-9.95zM390.65 1269.43h9.95v3.5h-9.95zM403.49 1269.43h9.95v3.5h-9.95zM416.33 1269.43h9.95v3.33h-9.95zM429.18 1269.02h9.95v3.92h-9.95zM442.02 1269.02h9.95v3.58h-9.95zM454.86 1268.85h9.95v3.75h-9.95zM467.71 1268.77h9.95v3.5h-9.95zM480.55 1268.18h9.95v3.75h-9.95zM493.39 1267.93h9.95v3.75h-9.95zM506.24 1267.6h9.95v3.75h-9.95zM519.08 1267.35h9.95v3.58h-9.95zM531.92 1266.93h9.95v4h-9.95zM544.76 1266.93h9.95v3.92h-9.95zM557.61 1266.93h9.95v3.92h-9.95zM570.45 1267.35h9.95v3.58h-9.95zM583.29 1267.77h9.95v3.17h-9.95zM596.14 1267.93h9.95v3.33h-9.95zM608.98 1268.77h9.95v2.75h-9.95zM621.82 1269.43h9.95v2.33h-9.95zM634.67 1270.02h9.95v2.08h-9.95zM647.51 1270.85h9.95v1.67h-9.95zM660.35 1271.27h9.95v1.5h-9.95zM673.2 1271.93h9.95v1h-9.95zM711.72 1272.93h9.95v1.67h-9.95z" fill="#90EE90"/>
<path d="M185.16 1272.77h9.95v1.83h-9.95zM198 1272.35h9.95v2.25h-9.95zM210.85 1271.1h9.95v3.5h-9.95zM223.69 1270.68h9.95v3.92h-9.95zM236.53 1271.1h9.95v3.5h-9.95zM249.38 1271.93h9.95v2.67h-9.95zM262.22 1272.52h9.95v2.08h-9.95zM275.06 1272.77h9.95v1.83h-9.95zM287.9 1272.93h9.95v1.67h-9.95zM300.75 1272.93h9.95v1.67h-9.95zM313.59 1272.93h9.95v1.67h-9.95zM326.43 1272.93h9.95v1.67h-9.95zM339.28 1272.93h9.95v1.67h-9.95zM352.12 1272.93h9.95v1.67h-9.95zM364.96 1272.93h9.95v1.67h-9.95zM377.81 1272.93h9.95v1.67h-9.95zM390.65 1272.93h9.95v1.67h-9.95zM403.49 1272.93h9.95v1.67h-9.95zM416.33 1272.77h9.95v1.83h-9.95zM429.18 1272.93h9.95v1.67h-9.95zM442.02 1272.6h9.95v2h-9.95zM454.86 1272.6h9.95v2h-9.95zM467.71 1272.27h9.95v2.33h-9.95zM480.55 1271.93h9.95v2.67h-9.95zM493.39 1271.68h9.95v2.92h-9.95zM506.24 1271.35h9.95v3.25h-9.95zM519.08 1270.93h9.95v3.67h-9.95zM531.92 1270.93h9.95v3.67h-9.95zM544.76 1270.85h9.95v3.75h-9.95zM557.61 1270.85h9.95v3.75h-9.95zM570.45 1270.93h9.95v3.67h-9.95zM583.29 1270.93h9.95v3.67h-9.95zM596.14 1271.27h9.95v3.33h-9.95zM608.98 1271.52h9.95v3.08h-9.95zM621.82 1271.77h9.95v2.83h-9.95zM634.67 1272.1h9.95v2.5h-9.95zM647.51 1272.52h9.95v2.08h-9.95zM660.35 1272.77h9.95v1.83h-9.95zM673.2 1272.93h9.95v1.67h-9.95zM686.04 1272.1h9.95v2.5h-9.95zM698.88 1272.77h9.95v1.83h-9.95zM724.57 1273.35h9.95v1.25h-9.95zM737.41 1273.68h9.95v0.92h-9.95z" fill="#A020F0"/>
<path d="M159.47 1274.1h9.95v0.5h-9.95z" fill="#999999"/>
<rect x="119.45" y="870.1" width="719.15" height="55.8" fill="#D9D9D9"/>
<rect x="119.45" y="870.1" width="719.15" height="420.5" fill="none" stroke="#333333" stroke-width="1.4"/>
<path d="M118.95 925.9H839.1" stroke="#333333" stroke-width="2.7" fill="none"/>
<text transform="translate(480.23 908.1) scale(1 1.01)" font-size="37.5" fill="#1A1A1A" stroke="#1A1A1A" stroke-width="0.3" text-anchor="middle" xml:space="preserve"><tspan font-style="italic">Orcinus orca</tspan> (DNA Zoo<tspan dx="2.2">)</tspan></text>
<text transform="translate(107.2 1286.85) scale(1 1.05)" font-size="32.8" fill="#4D4D4D" stroke="#4D4D4D" stroke-width="0.15" text-anchor="end">0.00</text>
<text transform="translate(107.2 1203.8) scale(1 1.05)" font-size="32.8" fill="#4D4D4D" stroke="#4D4D4D" stroke-width="0.15" text-anchor="end">0.05</text>
<text transform="translate(107.2 1120.75) scale(1 1.05)" font-size="32.8" fill="#4D4D4D" stroke="#4D4D4D" stroke-width="0.15" text-anchor="end">0.10</text>
<text transform="translate(107.2 1037.7) scale(1 1.05)" font-size="32.8" fill="#4D4D4D" stroke="#4D4D4D" stroke-width="0.15" text-anchor="end">0.15</text>
<text transform="translate(107.2 954.65) scale(1 1.05)" font-size="32.8" fill="#4D4D4D" stroke="#4D4D4D" stroke-width="0.15" text-anchor="end">0.20</text>
<text transform="translate(164.45 1326) scale(1 1.05)" font-size="32.8" fill="#4D4D4D" stroke="#4D4D4D" stroke-width="0.15" text-anchor="middle">0</text>
<text transform="translate(292.88 1326) scale(1 1.05)" font-size="32.8" fill="#4D4D4D" stroke="#4D4D4D" stroke-width="0.15" text-anchor="middle">10</text>
<text transform="translate(421.31 1326) scale(1 1.05)" font-size="32.8" fill="#4D4D4D" stroke="#4D4D4D" stroke-width="0.15" text-anchor="middle">20</text>
<text transform="translate(549.74 1326) scale(1 1.05)" font-size="32.8" fill="#4D4D4D" stroke="#4D4D4D" stroke-width="0.15" text-anchor="middle">30</text>
<text transform="translate(678.17 1326) scale(1 1.05)" font-size="32.8" fill="#4D4D4D" stroke="#4D4D4D" stroke-width="0.15" text-anchor="middle">40</text>
<text transform="translate(806.6 1326) scale(1 1.05)" font-size="32.8" fill="#4D4D4D" stroke="#4D4D4D" stroke-width="0.15" text-anchor="middle">50</text>
<path d="M112.1 1274.6H119.45M112.1 1191.55H119.45M112.1 1108.5H119.45M112.1 1025.45H119.45M112.1 942.4H119.45M164.45 1290.6V1297.95M292.88 1290.6V1297.95M421.31 1290.6V1297.95M549.74 1290.6V1297.95M678.17 1290.6V1297.95M806.6 1290.6V1297.95" stroke="#333333" stroke-width="2.55" fill="none"/>
</g>
<g>
<rect x="927.3" y="926.6" width="719.15" height="364" fill="#FFFFFF"/>
<path d="M927.3 1233.07H1646.45M927.3 1150.02H1646.45M927.3 1066.97H1646.45M927.3 983.92H1646.45M1036.51 926.6V1290.6M1164.94 926.6V1290.6M1293.38 926.6V1290.6M1421.8 926.6V1290.6M1550.23 926.6V1290.6" stroke="#EBEBEB" stroke-width="1.28" fill="none"/>
<path d="M927.3 1274.6H1646.45M927.3 1191.55H1646.45M927.3 1108.5H1646.45M927.3 1025.45H1646.45M927.3 942.4H1646.45M972.3 926.6V1290.6M1100.73 926.6V1290.6M1229.16 926.6V1290.6M1357.59 926.6V1290.6M1486.02 926.6V1290.6M1614.45 926.6V1290.6" stroke="#EBEBEB" stroke-width="2.55" fill="none"/>
<path d="M993.01 1260.35h9.95v0.58h-9.95zM1005.85 1237.77h9.95v0.92h-9.95zM1018.7 1202.02h9.95v1.67h-9.95zM1031.54 1038.93h9.95v1h-9.95zM1044.38 1100.02h9.95v1h-9.95zM1057.23 1242.18h9.95v1.08h-9.95zM1070.07 1241.52h9.95v1.33h-9.95zM1082.91 1242.18h9.95v1.67h-9.95zM1095.76 1253.68h9.95v1.42h-9.95zM1108.6 1256.35h9.95v1.5h-9.95zM1121.44 1255.93h9.95v1h-9.95zM1134.28 1253.85h9.95v1h-9.95zM1147.13 1253.6h9.95v1.25h-9.95zM1159.97 1254.18h9.95v1.5h-9.95zM1172.81 1255.02h9.95v1.92h-9.95zM1185.66 1251.77h9.95v1.83h-9.95zM1198.5 1255.27h9.95v2.33h-9.95zM1211.34 1255.27h9.95v2.5h-9.95zM1224.18 1254.85h9.95v2.25h-9.95zM1237.03 1252.6h9.95v2.25h-9.95zM1249.87 1255.02h9.95v2.08h-9.95zM1262.71 1255.02h9.95v2.58h-9.95zM1275.56 1255.27h9.95v2.5h-9.95zM1288.4 1251.27h9.95v2.33h-9.95zM1301.24 1252.93h9.95v2.58h-9.95zM1314.09 1253.6h9.95v2.25h-9.95zM1326.93 1253.18h9.95v2.33h-9.95zM1339.77 1250.93h9.95v2.08h-9.95zM1352.62 1248.18h9.95v1.83h-9.95zM1365.46 1252.6h9.95v1.42h-9.95zM1378.3 1255.1h9.95v1.83h-9.95zM1391.14 1256.1h9.95v1.83h-9.95zM1403.99 1257.77h9.95v1.08h-9.95zM1416.83 1258.85h9.95v1h-9.95zM1429.67 1260.68h9.95v1.08h-9.95zM1442.52 1262.1h9.95v0.83h-9.95zM1455.36 1264.02h9.95v0.83h-9.95zM1468.2 1265.93h9.95v1h-9.95zM1481.05 1267.1h9.95v0.67h-9.95zM1493.89 1269.02h9.95v0.67h-9.95zM1506.73 1270.02h9.95v0.5h-9.95zM1558.1 1272.18h9.95v0.5h-9.95z" fill="#FF0000"/>
<path d="M967.32 1273.18h9.95v1.42h-9.95zM980.17 1269.27h9.95v4.58h-9.95zM993.01 1260.93h9.95v12.08h-9.95zM1005.85 1238.68h9.95v33.5h-9.95zM1018.7 1203.68h9.95v67.25h-9.95zM1031.54 1039.93h9.95v230h-9.95zM1044.38 1101.02h9.95v168.92h-9.95zM1057.23 1243.27h9.95v26h-9.95zM1070.07 1242.85h9.95v23.25h-9.95zM1082.91 1243.85h9.95v24.75h-9.95zM1095.76 1255.1h9.95v15.58h-9.95zM1108.6 1257.85h9.95v12.5h-9.95zM1121.44 1256.93h9.95v11.83h-9.95zM1134.28 1254.85h9.95v12.5h-9.95zM1147.13 1254.85h9.95v11.92h-9.95zM1159.97 1255.68h9.95v12.92h-9.95zM1172.81 1256.93h9.95v11.92h-9.95zM1185.66 1253.6h9.95v11.67h-9.95zM1198.5 1257.6h9.95v11.17h-9.95zM1211.34 1257.77h9.95v11h-9.95zM1224.18 1257.1h9.95v11.67h-9.95zM1237.03 1254.85h9.95v11.08h-9.95zM1249.87 1257.1h9.95v11.67h-9.95zM1262.71 1257.6h9.95v11.17h-9.95zM1275.56 1257.77h9.95v11h-9.95zM1288.4 1253.6h9.95v11h-9.95zM1301.24 1255.52h9.95v11.25h-9.95zM1314.09 1255.85h9.95v12.08h-9.95zM1326.93 1255.52h9.95v12.08h-9.95zM1339.77 1253.02h9.95v12.25h-9.95zM1352.62 1250.02h9.95v11.92h-9.95zM1365.46 1254.02h9.95v12.92h-9.95zM1378.3 1256.93h9.95v11h-9.95zM1391.14 1257.93h9.95v10h-9.95zM1403.99 1258.85h9.95v9.92h-9.95zM1416.83 1259.85h9.95v9.17h-9.95zM1429.67 1261.77h9.95v8.08h-9.95zM1442.52 1262.93h9.95v7.17h-9.95zM1455.36 1264.85h9.95v6.08h-9.95zM1468.2 1266.93h9.95v4.42h-9.95zM1481.05 1267.77h9.95v4.17h-9.95zM1493.89 1269.68h9.95v3.08h-9.95zM1506.73 1270.52h9.95v2.42h-9.95zM1519.57 1271.1h9.95v1.83h-9.95zM1532.42 1271.93h9.95v1.25h-9.95zM1545.26 1271.93h9.95v1.25h-9.95zM1558.1 1272.68h9.95v1.17h-9.95zM1570.95 1272.6h9.95v1.25h-9.95zM1583.79 1273.02h9.95v1.58h-9.95zM1596.63 1273.85h9.95v0.75h-9.95z" fill="#27158F"/>
<path d="M980.17 1273.85h9.95v0.75h-9.95zM1005.85 1272.18h9.95v0.67h-9.95zM1018.7 1270.93h9.95v0.83h-9.95zM1031.54 1269.93h9.95v1.17h-9.95zM1044.38 1269.93h9.95v1.42h-9.95zM1057.23 1269.27h9.95v2.67h-9.95zM1070.07 1266.1h9.95v2.75h-9.95zM1082.91 1268.6h9.95v2.33h-9.95zM1095.76 1270.68h9.95v2.17h-9.95zM1108.6 1270.35h9.95v2.67h-9.95zM1121.44 1268.77h9.95v3h-9.95zM1134.28 1267.35h9.95v2.5h-9.95zM1147.13 1266.77h9.95v3.08h-9.95zM1159.97 1268.6h9.95v3.5h-9.95zM1172.81 1268.85h9.95v3.92h-9.95zM1185.66 1265.27h9.95v3.75h-9.95zM1198.5 1268.77h9.95v4h-9.95zM1211.34 1268.77h9.95v4h-9.95zM1224.18 1268.77h9.95v3.42h-9.95zM1237.03 1265.93h9.95v3.92h-9.95zM1249.87 1268.77h9.95v3.17h-9.95zM1262.71 1268.77h9.95v3.17h-9.95zM1275.56 1268.77h9.95v3.17h-9.95zM1288.4 1264.6h9.95v3.33h-9.95zM1301.24 1266.77h9.95v3.5h-9.95zM1314.09 1267.93h9.95v3.83h-9.95zM1326.93 1267.6h9.95v3.33h-9.95zM1339.77 1265.27h9.95v3.75h-9.95zM1352.62 1261.93h9.95v3.92h-9.95zM1365.46 1266.93h9.95v3.17h-9.95zM1378.3 1267.93h9.95v3.17h-9.95zM1391.14 1267.93h9.95v3.33h-9.95zM1403.99 1268.77h9.95v2.75h-9.95zM1416.83 1269.02h9.95v2.67h-9.95zM1429.67 1269.85h9.95v2h-9.95zM1442.52 1270.1h9.95v2h-9.95zM1455.36 1270.93h9.95v1.67h-9.95zM1468.2 1271.35h9.95v1.42h-9.95zM1481.05 1271.93h9.95v0.83h-9.95z" fill="#90EE90"/>
<path d="M1121.44 1271.77h9.95v1h-9.95zM1134.28 1269.85h9.95v3.08h-9.95zM1147.13 1269.85h9.95v2.92h-9.95zM1159.97 1272.1h9.95v0.83h-9.95z" fill="#ADD8E6"/>
<path d="M1121.44 1272.77h9.95v0.42h-9.95zM1224.18 1272.18h9.95v0.42h-9.95zM1326.93 1270.93h9.95v0.58h-9.95z" fill="#FF4D4D"/>
<path d="M1365.46 1270.1h9.95v0.58h-9.95z" fill="#FFFF66"/>
<path d="M1005.85 1272.85h9.95v1.75h-9.95zM1018.7 1271.77h9.95v2.83h-9.95zM1031.54 1271.1h9.95v3.5h-9.95zM1044.38 1271.35h9.95v3.25h-9.95zM1057.23 1271.93h9.95v2.67h-9.95zM1070.07 1268.85h9.95v1.25h-9.95zM1082.91 1270.93h9.95v1.42h-9.95zM1095.76 1272.85h9.95v1.75h-9.95zM1108.6 1273.02h9.95v1.58h-9.95zM1121.44 1273.18h9.95v1.42h-9.95zM1134.28 1272.93h9.95v1.67h-9.95zM1147.13 1272.77h9.95v1.83h-9.95zM1159.97 1272.93h9.95v1.67h-9.95zM1172.81 1272.77h9.95v1.83h-9.95zM1185.66 1269.02h9.95v1.5h-9.95zM1198.5 1272.77h9.95v1.83h-9.95zM1211.34 1272.77h9.95v1.83h-9.95zM1224.18 1272.6h9.95v2h-9.95zM1237.03 1269.85h9.95v1.08h-9.95zM1249.87 1271.93h9.95v1.5h-9.95zM1262.71 1271.93h9.95v1.75h-9.95zM1275.56 1271.93h9.95v2h-9.95zM1288.4 1267.93h9.95v1.92h-9.95zM1301.24 1270.27h9.95v2.08h-9.95zM1314.09 1271.77h9.95v2.83h-9.95zM1326.93 1271.52h9.95v3.08h-9.95zM1339.77 1269.02h9.95v2.92h-9.95zM1352.62 1265.85h9.95v3h-9.95zM1365.46 1270.68h9.95v3.92h-9.95zM1378.3 1271.1h9.95v3.5h-9.95zM1391.14 1271.27h9.95v3.33h-9.95zM1403.99 1271.52h9.95v3.08h-9.95zM1416.83 1271.68h9.95v2.92h-9.95zM1429.67 1271.85h9.95v2.75h-9.95zM1442.52 1272.1h9.95v2.5h-9.95zM1455.36 1272.6h9.95v2h-9.95zM1468.2 1272.77h9.95v1.83h-9.95zM1481.05 1272.77h9.95v1.83h-9.95zM1493.89 1272.77h9.95v1.83h-9.95zM1506.73 1272.93h9.95v1.67h-9.95zM1519.57 1272.93h9.95v1.67h-9.95zM1532.42 1273.18h9.95v1.42h-9.95zM1558.1 1273.85h9.95v0.75h-9.95zM1570.95 1273.85h9.95v0.75h-9.95z" fill="#A020F0"/>
<path d="M993.01 1273.02h9.95v1.58h-9.95zM1070.07 1270.1h9.95v4.5h-9.95zM1082.91 1272.35h9.95v2.25h-9.95zM1185.66 1270.52h9.95v4.08h-9.95zM1237.03 1270.93h9.95v3.67h-9.95zM1249.87 1273.43h9.95v1.17h-9.95zM1262.71 1273.68h9.95v0.92h-9.95zM1275.56 1273.93h9.95v0.67h-9.95zM1288.4 1269.85h9.95v4.75h-9.95zM1301.24 1272.35h9.95v2.25h-9.95zM1339.77 1271.93h9.95v2.67h-9.95zM1352.62 1268.85h9.95v5.75h-9.95zM1545.26 1273.18h9.95v1.42h-9.95z" fill="#999999"/>
<rect x="927.3" y="870.1" width="719.15" height="55.8" fill="#D9D9D9"/>
<rect x="927.3" y="870.1" width="719.15" height="420.5" fill="none" stroke="#333333" stroke-width="1.4"/>
<path d="M926.8 925.9H1646.95" stroke="#333333" stroke-width="2.7" fill="none"/>
<text transform="translate(1290.28 908.1) scale(1 1.01)" font-size="37.5" fill="#1A1A1A" stroke="#1A1A1A" stroke-width="0.3" text-anchor="middle" xml:space="preserve"><tspan font-style="italic">Orcinus orca</tspan> (GCA_937001465.1<tspan dx="2.2">)</tspan></text>
<text transform="translate(915.05 1286.85) scale(1 1.05)" font-size="32.8" fill="#4D4D4D" stroke="#4D4D4D" stroke-width="0.15" text-anchor="end">0.00</text>
<text transform="translate(915.05 1203.8) scale(1 1.05)" font-size="32.8" fill="#4D4D4D" stroke="#4D4D4D" stroke-width="0.15" text-anchor="end">0.05</text>
<text transform="translate(915.05 1120.75) scale(1 1.05)" font-size="32.8" fill="#4D4D4D" stroke="#4D4D4D" stroke-width="0.15" text-anchor="end">0.10</text>
<text transform="translate(915.05 1037.7) scale(1 1.05)" font-size="32.8" fill="#4D4D4D" stroke="#4D4D4D" stroke-width="0.15" text-anchor="end">0.15</text>
<text transform="translate(915.05 954.65) scale(1 1.05)" font-size="32.8" fill="#4D4D4D" stroke="#4D4D4D" stroke-width="0.15" text-anchor="end">0.20</text>
<text transform="translate(972.3 1326) scale(1 1.05)" font-size="32.8" fill="#4D4D4D" stroke="#4D4D4D" stroke-width="0.15" text-anchor="middle">0</text>
<text transform="translate(1100.73 1326) scale(1 1.05)" font-size="32.8" fill="#4D4D4D" stroke="#4D4D4D" stroke-width="0.15" text-anchor="middle">10</text>
<text transform="translate(1229.16 1326) scale(1 1.05)" font-size="32.8" fill="#4D4D4D" stroke="#4D4D4D" stroke-width="0.15" text-anchor="middle">20</text>
<text transform="translate(1357.59 1326) scale(1 1.05)" font-size="32.8" fill="#4D4D4D" stroke="#4D4D4D" stroke-width="0.15" text-anchor="middle">30</text>
<text transform="translate(1486.02 1326) scale(1 1.05)" font-size="32.8" fill="#4D4D4D" stroke="#4D4D4D" stroke-width="0.15" text-anchor="middle">40</text>
<text transform="translate(1614.45 1326) scale(1 1.05)" font-size="32.8" fill="#4D4D4D" stroke="#4D4D4D" stroke-width="0.15" text-anchor="middle">50</text>
<path d="M919.95 1274.6H927.3M919.95 1191.55H927.3M919.95 1108.5H927.3M919.95 1025.45H927.3M919.95 942.4H927.3M972.3 1290.6V1297.95M1100.73 1290.6V1297.95M1229.16 1290.6V1297.95M1357.59 1290.6V1297.95M1486.02 1290.6V1297.95M1614.45 1290.6V1297.95" stroke="#333333" stroke-width="2.55" fill="none"/>
</g>
<text transform="translate(879 1366.4) scale(1 1)" font-size="35.15" fill="#000000" stroke="#000000" stroke-width="0.3" text-anchor="middle">Kimura 2−Parameter % divergence (CpG adjusted<tspan dx="2.2">)</tspan></text>
<text transform="translate(30.1 673.6) rotate(-90) scale(1 1)" font-size="35.15" fill="#000000" stroke="#000000" stroke-width="0.3" text-anchor="middle">Fraction of genome covered</text>
<g>
<text transform="translate(1686.4 519) scale(1 1)" font-size="37.5" fill="#000000" stroke="#000000" stroke-width="0.3">RepeatClass</text>
<rect x="1686.9" y="537.6" width="17.2" height="26.4" fill="#FF0000"/>
<text transform="translate(1718.8 561.7) scale(1 1.04)" font-size="30.55" fill="#000000" stroke="#000000" stroke-width="0.3">DNA</text>
<rect x="1686.9" y="567.1" width="17.2" height="26.4" fill="#27158F"/>
<text transform="translate(1718.8 591.2) scale(1 1.04)" font-size="30.55" fill="#000000" stroke="#000000" stroke-width="0.3">LINE</text>
<rect x="1686.9" y="596.6" width="17.2" height="26.4" fill="#90EE90"/>
<text transform="translate(1718.8 620.7) scale(1 1.04)" font-size="30.55" fill="#000000" stroke="#000000" stroke-width="0.3">LTR</text>
<rect x="1686.9" y="626.1" width="17.2" height="26.4" fill="#ADD8E6"/>
<text transform="translate(1718.8 650.2) scale(1 1.04)" font-size="30.55" fill="#000000" stroke="#000000" stroke-width="0.3">PLE</text>
<rect x="1686.9" y="655.6" width="17.2" height="26.4" fill="#FF00FF"/>
<text transform="translate(1718.8 679.7) scale(1 1)" font-size="30.55" fill="#000000" stroke="#000000" stroke-width="0.3">RC/Helitron</text>
<rect x="1686.9" y="685.1" width="17.2" height="26.4" fill="#FF4D4D"/>
<text transform="translate(1718.8 709.2) scale(1 1)" font-size="30.55" fill="#000000" stroke="#000000" stroke-width="0.3">Retroposon/SVA</text>
<rect x="1686.9" y="714.6" width="17.2" height="26.4" fill="#CCCC52"/>
<text transform="translate(1718.8 738.7) scale(1 1)" font-size="30.55" fill="#000000" stroke="#000000" stroke-width="0.3">Satellite</text>
<rect x="1686.9" y="744.1" width="17.2" height="26.4" fill="#FFFF66"/>
<text transform="translate(1718.8 768.2) scale(1 1)" font-size="30.55" fill="#000000" stroke="#000000" stroke-width="0.3">Simple_repeat</text>
<rect x="1686.9" y="773.6" width="17.2" height="26.4" fill="#A020F0"/>
<text transform="translate(1718.8 797.7) scale(1 1.04)" font-size="30.55" fill="#000000" stroke="#000000" stroke-width="0.3">SINE</text>
<rect x="1686.9" y="803.1" width="17.2" height="26.4" fill="#999933"/>
<text transform="translate(1718.8 827.2) scale(1 1)" font-size="30.55" fill="#000000" stroke="#000000" stroke-width="0.3">Structural_RNA</text>
<rect x="1686.9" y="832.6" width="17.2" height="26.4" fill="#999999"/>
<text transform="translate(1718.8 856.7) scale(1 1)" font-size="30.55" fill="#000000" stroke="#000000" stroke-width="0.3">Unknown</text>
</g>
</svg>
</body></html>
